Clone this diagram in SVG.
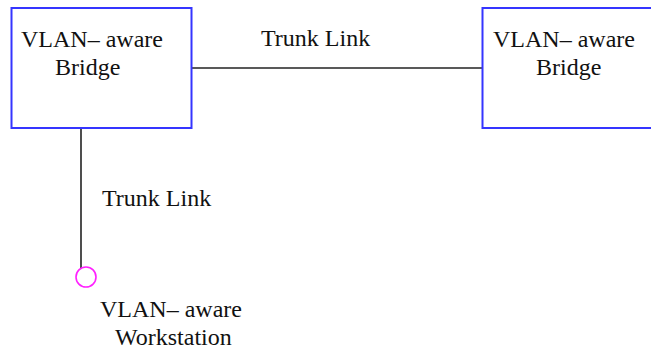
<svg xmlns="http://www.w3.org/2000/svg" width="651" height="354" viewBox="0 0 651 354">
<style>
.box{fill:#fff;stroke:#3535ff;stroke-width:2}
.lbl{font-family:"Liberation Serif","Times New Roman",serif;font-size:24px;fill:#111}
.link{stroke:#222;stroke-width:1.6;fill:none}
.ws{fill:none;stroke:#ff20ff;stroke-width:1.6}
</style>
<rect width="651" height="354" fill="#fff"/>
<g id="connectors">
<line class="link" x1="191" y1="68" x2="482" y2="68"/>
<line class="link" x1="81" y1="128" x2="81" y2="268.5"/>
<text class="lbl" x="261" y="46">Trunk Link</text>
<text class="lbl" x="102" y="206">Trunk Link</text>
</g>
<g id="bridge1">
<rect class="box" x="11.5" y="8" width="180" height="120"/>
<text class="lbl" x="21" y="47">VLAN– aware</text>
<text class="lbl" x="55" y="75">Bridge</text>
</g>
<g id="bridge2">
<rect class="box" x="482.5" y="8" width="180" height="120"/>
<text class="lbl" x="493" y="47">VLAN– aware</text>
<text class="lbl" x="536" y="75">Bridge</text>
</g>
<g id="workstation">
<circle class="ws" cx="86" cy="277" r="10"/>
<text class="lbl" x="100" y="317">VLAN– aware</text>
<text class="lbl" x="115" y="345">Workstation</text>
</g>
</svg>
